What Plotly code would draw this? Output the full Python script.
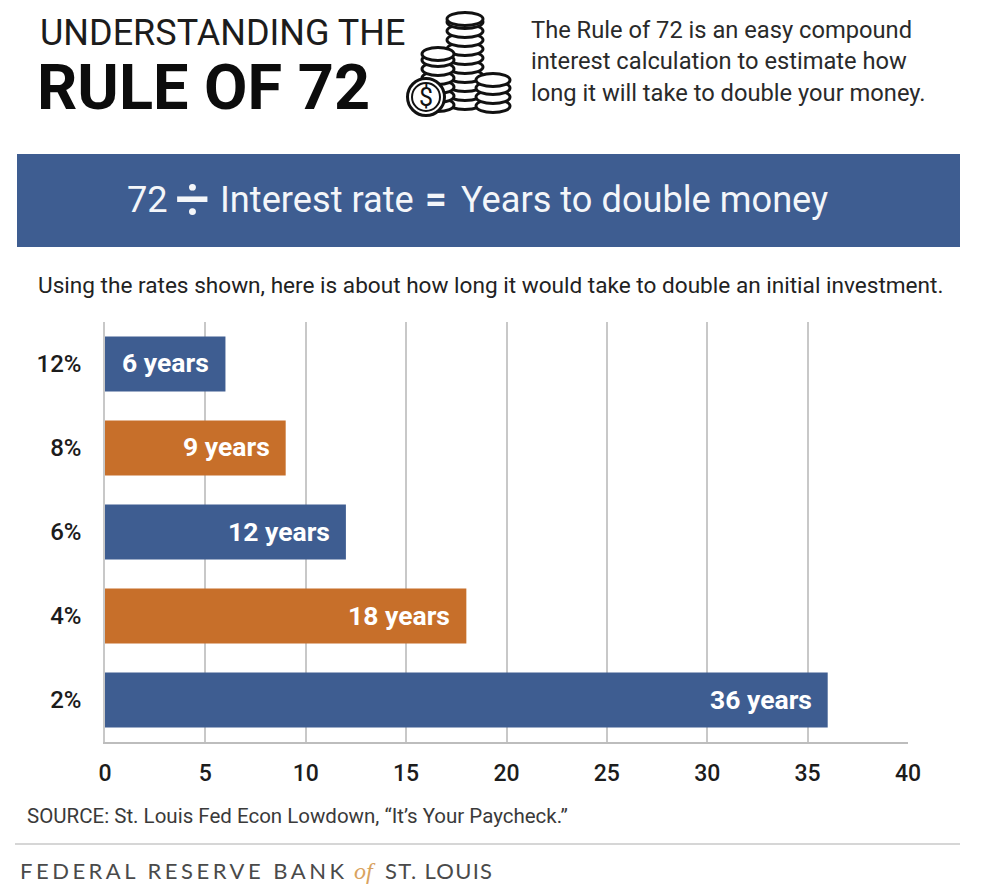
import plotly.graph_objects as go

W, H = 986, 895

rates = ["2%", "4%", "6%", "8%", "12%"]
years = [36, 18, 12, 9, 6]
bar_labels = ["36 years", "18 years", "12 years", "9 years", "6 years"]
x_ticks = [0, 5, 10, 15, 20, 25, 30, 35, 40]

BLUE = "#3e5d91"
ORANGE = "#c76f2a"
bar_colors = [BLUE, ORANGE, BLUE, ORANGE, BLUE]
INK = "#1c1c1c"
FONT = "Roboto"

fig = go.Figure()

fig.add_trace(go.Bar(
    x=years, y=rates, orientation="h", width=0.655,
    marker=dict(color=bar_colors, line=dict(width=0)),
    hoverinfo="skip",
))

# second pair of axes covers the whole page, in pixels, for header and footer
fig.add_trace(go.Scatter(x=[], y=[], xaxis="x2", yaxis="y2", showlegend=False))


def note(x, y, text, size, color=INK, anchor="left", weight=400, family=FONT):
    fig.add_annotation(x=x, y=y, xref="x2", yref="y2", text=text, showarrow=False,
                       xanchor=anchor, yanchor="middle",
                       font=dict(family=family, size=size, color=color, weight=weight))


def coin(cx, cy, rx, ry, width=3):
    fig.add_shape(type="circle", xref="x2", yref="y2",
                  x0=cx - rx, x1=cx + rx, y0=cy - ry, y1=cy + ry,
                  fillcolor="white", line=dict(color="#111111", width=width))


def stack(cx, top, bottom, rx, ry=6.5, step=9):
    y = bottom
    while y > top:
        coin(cx, y, rx, ry)
        y -= step
    coin(cx, top, rx, ry)


# coin icon
stack(465, 19, 103, 18)
stack(438, 54, 105, 16)
stack(493, 80, 106, 17)
coin(426, 97, 18.5, 18.5)
coin(426, 97, 14, 14, 2)
note(426, 97, "$", 25, color="#111111", anchor="center")

# header
note(38, 33, "UNDERSTANDING THE", 36)
note(35, 87, "RULE OF 72", 63, color="#0c0c0c", weight=700)
note(529, 30, "The Rule of 72 is an easy compound", 23.7, color="#2a2a2a")
note(529, 61, "interest calculation to estimate how", 23.7, color="#2a2a2a")
note(529, 93, "long it will take to double your money.", 23.7, color="#2a2a2a")

# banner, the operators are bigger than the words so each piece is placed alone
fig.add_shape(type="rect", xref="x2", yref="y2", x0=17, x1=960, y0=154, y1=247,
              fillcolor=BLUE, line=dict(width=0), layer="below")
note(125, 199, "72", 36.2, color="#f4f6f9")
note(192, 198, "÷", 62, color="#f4f6f9", anchor="center")
note(218, 199, "Interest rate", 36.2, color="#f4f6f9")
note(436, 199, "=", 38, color="#f4f6f9", anchor="center", weight=700)
note(459, 199, "Years to double money", 36.2, color="#f4f6f9")

note(36, 285, "Using the rates shown, here is about how long it would take to double an initial investment.",
     22.6, color="#222222")

# bar labels, right aligned inside the bars
for value, rate, label in zip(years, rates, bar_labels):
    fig.add_annotation(x=value, y=rate, text=label, showarrow=False,
                       xanchor="right", xshift=-14, yshift=1, yanchor="middle",
                       font=dict(family=FONT, size=26.5, color="white", weight=700))

# footer
note(25, 816, "SOURCE: St. Louis Fed Econ Lowdown, “It’s Your Paycheck.”", 20.5, color="#3a3a3a")
fig.add_shape(type="line", xref="x2", yref="y2", x0=15, x1=960, y0=844, y1=844,
              line=dict(color="#c9c9c9", width=1.5))
note(18, 870, '<span style="letter-spacing:3.5px">FEDERAL RESERVE BANK</span>', 22,
     color="#4a4a4a", family="Lato")
note(352, 871, '<i>of</i>', 24, color="#d9a35f", family="Liberation Serif")
note(383, 870, '<span style="letter-spacing:1.3px">ST. LOUIS</span>', 22,
     color="#4a4a4a", family="Lato")

fig.update_layout(
    width=W, height=H,
    margin=dict(l=0, r=0, t=0, b=0, autoexpand=False),
    paper_bgcolor="white", plot_bgcolor="rgba(0,0,0,0)",
    showlegend=False,
    bargap=0.35,
    font=dict(family=FONT, color=INK),
    xaxis=dict(domain=[105 / W, 908 / W], range=[0, 40], tickvals=x_ticks,
               showgrid=True, gridcolor="#c8c8c8", gridwidth=1.5,
               showline=True, linecolor="#bdbdbd", linewidth=1.5,
               zeroline=False, ticks="", ticklabelstandoff=10,
               tickfont=dict(size=23, weight=500, color=INK)),
    yaxis=dict(domain=[1 - 742 / H, 1 - 322 / H], type="category",
               categoryorder="array", categoryarray=rates,
               showgrid=False, showline=True, linecolor="#c8c8c8", linewidth=1.5,
               zeroline=False, ticks="", ticklabelstandoff=17,
               tickfont=dict(size=24, weight=500, color=INK)),
    xaxis2=dict(domain=[0, 1], range=[0, W], visible=False, anchor="y2"),
    yaxis2=dict(domain=[0, 1], range=[H, 0], visible=False, anchor="x2"),
)

fig.write_html("out.html", config={"displayModeBar": False},
               post_script="document.body.style.margin = '0';")
